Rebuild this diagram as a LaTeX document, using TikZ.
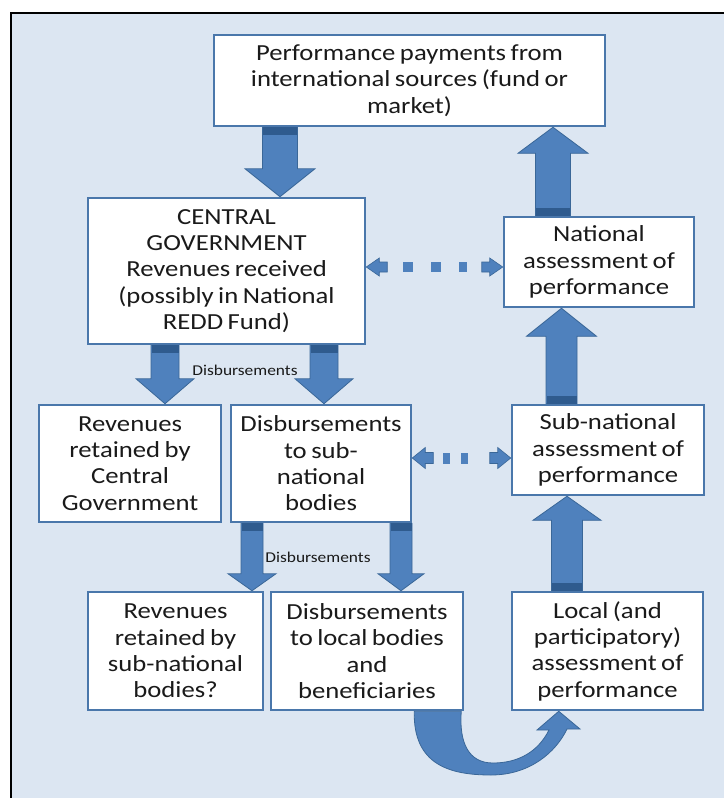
\documentclass[tikz,border=0pt]{standalone}
\usepackage{fontspec}
\setmainfont{Carlito}[FakeStretch=1.16, WordSpace=0.75]
\usetikzlibrary{calc}
\definecolor{panel}{HTML}{DCE6F2}
\definecolor{boxedge}{HTML}{4A77AB}
\definecolor{arrowfill}{HTML}{4F81BD}
\definecolor{arrowedge}{HTML}{3A6798}
\definecolor{arrowband}{HTML}{2F5B8E}
\definecolor{ink}{HTML}{1A1A1A}

\pgfdeclarelayer{panel}
\pgfdeclarelayer{flow}
\pgfsetlayers{panel,flow,main}

% Vertical block arrow: #1 start, #2 tip, #3 half shaft, #4 half head, #5 head length, #6 band depth
\newcommand\blockarrow[6]{%
  \filldraw[fill=arrowfill, draw=arrowedge, line width=0.8pt]
    let \p1=#1, \p2=#2, \n1={sign(\y2-\y1)} in
    ({\x1-#3},\y1) -- ({\x1-#3},{\y2-(\n1)*#5}) -- ({\x1-#4},{\y2-(\n1)*#5}) -- (\x1,\y2)
    -- ({\x1+#4},{\y2-(\n1)*#5}) -- ({\x1+#3},{\y2-(\n1)*#5}) -- ({\x1+#3},\y1) -- cycle;
  \fill[arrowband] let \p1=#1, \p2=#2, \n1={sign(\y2-\y1)} in
    ({\x1-#3+0.5},\y1) rectangle ({\x1+#3-0.5},{\y1+(\n1)*#6});
}

% Head of a dotted link: #1 tip, #2 direction (+1 right, -1 left), #3 half height, #4 half stub
\newcommand\dothead[4]{%
  \filldraw[fill=arrowfill, draw=arrowedge, line width=0.6pt]
    let \p1=#1 in
    (\x1,\y1) -- ({\x1+(#2)*13},{\y1+#3}) -- ({\x1+(#2)*13},{\y1+#4}) -- ({\x1+(#2)*21},{\y1+#4})
    -- ({\x1+(#2)*21},{\y1-#4}) -- ({\x1+(#2)*13},{\y1-#4}) -- ({\x1+(#2)*13},{\y1-#3}) -- cycle;
}

\tikzset{
  box/.style={draw=boxedge, line width=2.5pt, fill=white, align=center,
    inner sep=0pt, text=ink, font=\fontsize{23}{26.3}\selectfont},
  small/.style={text=ink, font=\fontsize{15}{17}\selectfont, inner sep=0pt},
  dots/.style={draw=arrowfill, line width=10pt},
}

\begin{document}
\begin{tikzpicture}[x=1pt, y=-1pt]
\useasboundingbox (0,0) rectangle (724,798);

\begin{pgfonlayer}{panel}
  \fill[white] (0,0) rectangle (724,798);
  \fill[panel] (11,13) rectangle (724,798);
  \draw[black, line width=2.5pt] (11,798) -- (11,13) -- (724,13);
\end{pgfonlayer}

% Boxes
\node[box, minimum width=391pt, minimum height=91pt] (top) at (409.5,80.5)
  {Performance payments from\\international sources (fund or\\market)};
\node[box, minimum width=277pt, minimum height=146pt] (central) at (226.5,271)
  {CENTRAL\\GOVERNMENT\\Revenues received\\(possibly in National\\REDD Fund)};
\node[box, minimum width=190pt, minimum height=90pt] (national) at (599,262)
  {National\\assessment of\\performance};
\node[box, minimum width=182pt, minimum height=117pt] (rrc) at (130,463.5)
  {Revenues\\retained by\\Central\\Government};
\node[box, minimum width=180pt, minimum height=117pt] (dsub) at (321,463.5)
  {Disbursements\\to sub-\\national\\bodies};
\node[box, minimum width=192pt, minimum height=90pt] (subnat) at (608,450)
  {Sub-national\\assessment of\\performance};
\node[box, minimum width=175pt, minimum height=118pt] (rrs) at (175.5,651)
  {Revenues\\retained by\\sub-national\\bodies?};
\node[box, minimum width=192pt, minimum height=118pt] (dloc) at (367,651)
  {Disbursements\\to local bodies\\and\\beneficiaries};
\node[box, minimum width=191pt, minimum height=118pt] (local) at (607.5,651)
  {Local (and\\participatory)\\assessment of\\performance};

% Arrow columns
\coordinate (xa) at (280,0);
\coordinate (xb) at (553,0);
\coordinate (xc) at (561.5,0);
\coordinate (xd) at (567,0);
\coordinate (xe) at (165,0);
\coordinate (xf) at (324,0);
\coordinate (xg) at (252,0);
\coordinate (xh) at (401,0);
\coordinate (ya) at (0,267);
\coordinate (yb) at (0,458);

\begin{pgfonlayer}{flow}
  \blockarrow{(xa |- top.south)}{(xa |- central.north)}{17.5}{35}{28}{8}
  \blockarrow{(xb |- national.north)}{(xb |- top.south)}{17.5}{35}{26}{8}
  \blockarrow{(xc |- subnat.north)}{(xc |- national.south)}{15.5}{35}{28}{8}
  \blockarrow{(xd |- local.north)}{(xd |- subnat.south)}{15.5}{34}{24}{8}
  \blockarrow{(xe |- central.south)}{(xe |- rrc.north)}{14}{29}{25}{8}
  \blockarrow{(xf |- central.south)}{(xf |- dsub.north)}{14}{29}{25}{8}
  \blockarrow{(xg |- dsub.south)}{(xg |- rrs.north)}{11}{24}{17}{8}
  \blockarrow{(xh |- dsub.south)}{(xh |- dloc.north)}{11}{23}{17}{8}

  % Dotted two-way links
  \draw[dots, dash pattern=on 10pt off 18pt]
    ([xshift=37pt]central.east |- ya) -- ([xshift=-36pt]national.west |- ya);
  \dothead{(central.east |- ya)}{1}{9}{5}
  \dothead{(national.west |- ya)}{-1}{9}{5}
  \draw[dots, line width=11pt, dash pattern=on 7pt off 11pt]
    ([xshift=31pt]dsub.east |- yb) -- ([xshift=-34pt]subnat.west |- yb);
  \dothead{(dsub.east |- yb)}{1}{10.5}{5.5}
  \dothead{(subnat.west |- yb)}{-1}{10.5}{5.5}

  % Curved arrow from local disbursements to local assessment
  \coordinate (c0) at ($(dloc.south east)+(-50,0)$);
  \coordinate (c1) at ($(dloc.south east)+(-3,0)$);
  \coordinate (ct) at ($(local.south west)+(48,0)$);
  \filldraw[fill=arrowfill, draw=arrowedge, line width=0.8pt]
    (c0) .. controls (413,765) and (450,775) .. (491,775)
    .. controls (530,775) and (556,752) .. (567,729)
    -- (580,729) -- (ct) -- (537,730) -- (549,730)
    .. controls (538,752) and (518,763) .. (493,763)
    .. controls (468,763) and (459,742) .. (c1) -- cycle;
\end{pgfonlayer}

% Flow labels
\node[small] (lab1) at (245,370) {Disbursements};
\node[small] (lab2) at (318,557) {Disbursements};
\end{tikzpicture}
\end{document}
